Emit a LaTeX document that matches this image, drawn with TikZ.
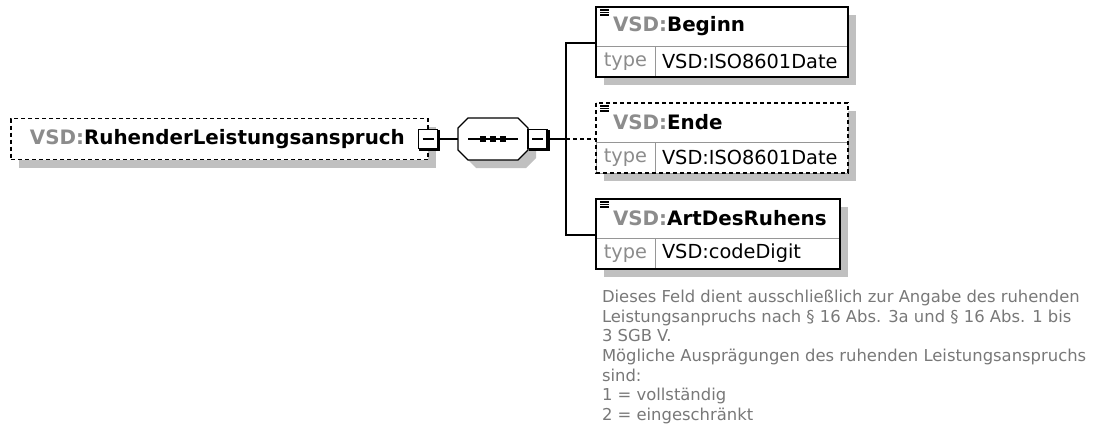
\documentclass[tikz,border=0pt]{standalone}
\usepackage{fontspec}
\setmainfont{DejaVu Sans}
\usepackage{tikz}
\usetikzlibrary{positioning,shadows}
\definecolor{shade}{RGB}{192,192,192}
\definecolor{prefix}{RGB}{140,140,140}
\definecolor{notegray}{RGB}{120,120,120}
\definecolor{rulegray}{RGB}{150,150,150}

\begin{document}
\begin{tikzpicture}[x=0.75pt,y=-0.75pt,line width=1pt,every node/.style={outer sep=0pt},
    shadowed/.style={drop shadow={shadow xshift=6pt,shadow yshift=-6pt,fill=shade,opacity=1}},
    dashedline/.style={dash pattern=on 3pt off 2.25pt},
    root/.style={shadowed,draw,dashedline,fill=white,anchor=north west,minimum height=30.75pt,
      inner xsep=14.25pt,text width=284.25pt,align=left,font=\bfseries\fontsize{14.9}{17}\selectfont},
    head/.style={shadowed,fill=white,anchor=north west,minimum height=29.25pt,inner xsep=12.75pt,
      text width=#1,align=left,font=\bfseries\fontsize{14.9}{17}\selectfont},
    typecell/.style={shadowed,draw=rulegray,line width=0.75pt,fill=white,text=prefix,minimum width=44.25pt,
      minimum height=23.25pt,inner sep=0pt,font=\fontsize{14.5}{17}\selectfont},
    valcell/.style={shadowed,draw=rulegray,line width=0.75pt,fill=white,minimum height=23.25pt,inner xsep=5.25pt,
      inner ysep=0pt,text width=#1,align=left,font=\fontsize{14.5}{17}\selectfont},
    frame/.style={draw,line width=1.2pt},
    toggle/.style={draw,fill=white,minimum size=14.25pt,inner sep=0pt,
      preaction={draw,line width=1.2pt,transform canvas={shift={(1.3pt,-1.3pt)}}},
      path picture={\draw[line width=1pt] ([xshift=3pt]path picture bounding box.west) -- ([xshift=-3pt]path picture bounding box.east);}},
    seqbox/.style={minimum width=52.5pt,minimum height=31.5pt,inner sep=0pt},
    note/.style={anchor=north west,inner sep=0pt,align=left,text=notegray,font=\fontsize{12.3}{14.7}\selectfont}]
  \useasboundingbox (0,0) rectangle (1093,439);

  \node[root] (root) at (11,118.5) {\textcolor{prefix}{VSD:}RuhenderLeistungsanspruch};
  \node[toggle] (rtog) at (root.east) {};

  \node[seqbox] (seq) at (493,139) {};
  \foreach \d/\col/\dr in {8/shade/none,0/white/black}
    \filldraw[fill=\col,draw=\dr] ([shift={(\d+10,\d)}]seq.north west) -- ([shift={(\d-10,\d)}]seq.north east)
      -- ([shift={(\d,\d+10)}]seq.north east) -- ([shift={(\d,\d-10)}]seq.south east)
      -- ([shift={(\d-10,\d)}]seq.south east) -- ([shift={(\d+10,\d)}]seq.south west)
      -- ([shift={(\d,\d-10)}]seq.south west) -- ([shift={(\d,\d+10)}]seq.north west) -- cycle;
  \draw ([xshift=-18.75pt]seq.center) -- ([xshift=18.75pt]seq.center);
  \foreach \dx in {-10,0,10}
    \fill ([shift={(\dx,0)}]seq.center) +(-2.6,-2.6) rectangle +(2.6,2.6);
  \node[toggle,anchor=west] (stog) at (seq.east) {};
  \coordinate (bus) at (566,139);

  \node[head=163.5pt] (beg) at (596,7) {\textcolor{prefix}{VSD:}Beginn};
  \node[typecell,below right=0pt and 0pt of beg.south west] (begt) {type};
  \node[valcell=134.25pt,right=0pt of begt] (begv) {VSD:ISO8601Date};
  \draw[frame] (beg.north west) rectangle (begv.south east);

  \node[head=163.5pt] (end) at (596,103) {\textcolor{prefix}{VSD:}Ende};
  \node[typecell,below right=0pt and 0pt of end.south west] (endt) {type};
  \node[valcell=134.25pt,right=0pt of endt] (endv) {VSD:ISO8601Date};
  \draw[frame,dashedline] (end.north west) rectangle (endv.south east);

  \node[head=157.5pt] (art) at (596,199) {\textcolor{prefix}{VSD:}ArtDesRuhens};
  \node[typecell,below right=0pt and 0pt of art.south west] (artt) {type};
  \node[valcell=128.25pt,right=0pt of artt] (artv) {VSD:codeDigit};
  \draw[frame] (art.north west) rectangle (artv.south east);

  \foreach \n in {beg,end,art}
    \foreach \k in {0,1,2}
      \draw[line width=0.9pt] ([shift={(4,3+2.5*\k)}]\n.north west) -- ++(9,0);

  \coordinate (begc) at ([yshift=2.25pt]begt.north west);
  \coordinate (endc) at ([yshift=2.25pt]endt.north west);
  \coordinate (artc) at ([yshift=2.25pt]artt.north west);

  \draw (rtog) -- (seq);
  \draw (stog) -- (bus);
  \draw[dashedline] (bus) -- (endc);
  \draw (begc) -| (bus) |- (artc);

  \node[note,below right=16pt and 4.5pt of artt.south west] (artnote)
    {Dieses Feld dient ausschließlich zur Angabe des ruhenden\\
     Leistungsanpruchs nach § 16 Abs. 3a und § 16 Abs. 1 bis\\
     3 SGB V.\\
     Mögliche Ausprägungen des ruhenden Leistungsanspruchs\\
     sind:\\
     1 = vollständig\\
     2 = eingeschränkt};
\end{tikzpicture}
\end{document}
